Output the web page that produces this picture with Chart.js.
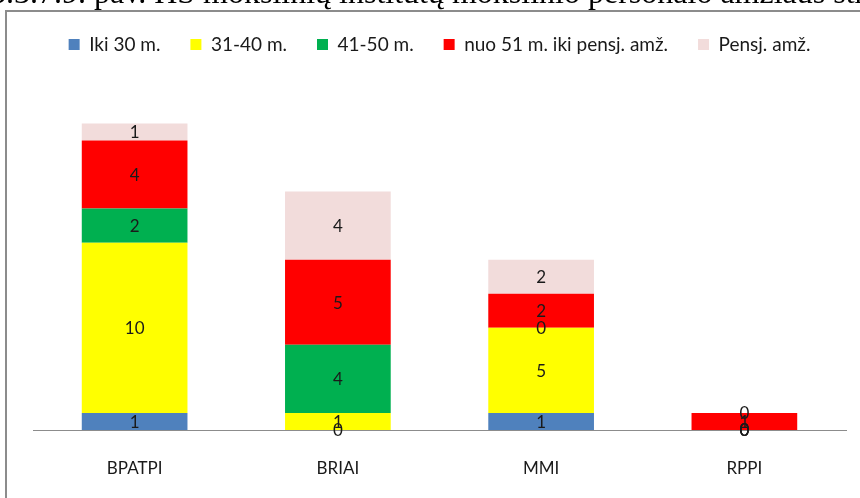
<!DOCTYPE html>
<html>
<head>
<meta charset="utf-8">
<script src="https://cdn.jsdelivr.net/npm/chart.js@4"></script>
<style>
  html, body { margin: 0; padding: 0; background: #fff; }
  #wrap { position: relative; width: 860px; height: 498px; overflow: hidden; }
</style>
</head>
<body>
<div id="wrap"><canvas id="chart" width="860" height="498"></canvas></div>
<script>
const institutes = ["BPATPI", "BRIAI", "MMI", "RPPI"];
const iki30 = [1, 0, 1, 0];
const nuo31iki40 = [10, 1, 5, 0];
const nuo41iki50 = [2, 4, 0, 0];
const nuo51ikiPensijos = [4, 5, 2, 1];
const pensijinis = [1, 4, 2, 0];
const captionText = "3.3.7.9. pav. HS mokslinių institutų mokslinio personalo amžiaus struktūra";

// frame + cut caption at the top, like the scanned page
const pageBits = {
  id: "pageBits",
  beforeDraw(chart) {
    const ctx = chart.ctx;
    ctx.save();
    ctx.fillStyle = "#000";
    ctx.font = "32px 'Liberation Serif'";
    ctx.textBaseline = "alphabetic";
    ctx.fillText(captionText, -10, 3);
    ctx.strokeStyle = "#8c8c8c";
    ctx.lineWidth = 2;
    ctx.strokeRect(6, 11, 900, 520);
    ctx.restore();
  }
};

// value labels in the middle of each piece (zeros too, like Excel)
const pieceLabels = {
  id: "pieceLabels",
  afterDatasetsDraw(chart) {
    const ctx = chart.ctx;
    ctx.save();
    ctx.font = "17px Lato";
    ctx.fillStyle = "#1a1a1a";
    ctx.textAlign = "center";
    ctx.textBaseline = "middle";
    chart.data.datasets.forEach((ds, i) => {
      chart.getDatasetMeta(i).data.forEach((bar, j) => {
        const mid = (bar.y + bar.base) / 2;
        ctx.fillText(String(ds.data[j]), bar.x, mid + 1);
      });
    });
    ctx.restore();
  }
};

new Chart(document.getElementById("chart"), {
  type: "bar",
  data: {
    labels: institutes,
    datasets: [
      { label: "Iki 30 m.", data: iki30, backgroundColor: "#4f81bd" },
      { label: "31-40 m.", data: nuo31iki40, backgroundColor: "#ffff00" },
      { label: "41-50 m.", data: nuo41iki50, backgroundColor: "#00b050" },
      { label: "nuo 51 m. iki pensj. amž.", data: nuo51ikiPensijos, backgroundColor: "#ff0000" },
      { label: "Pensj. amž.", data: pensijinis, backgroundColor: "#f2dcdb" },
    ],
  },
  options: {
    responsive: false,
    animation: false,
    layout: { padding: { left: 33, right: 14, top: 5, bottom: 0 } },
    datasets: { bar: { barPercentage: 0.52, categoryPercentage: 1 } },
    plugins: {
      tooltip: { enabled: false },
      legend: {
        position: "top",
        labels: {
          boxWidth: 11,
          boxHeight: 11,
          padding: 30,
          color: "#1a1a1a",
          font: { family: "Lato", size: 19 },
        },
      },
    },
    scales: {
      x: {
        stacked: true,
        grid: { display: false, drawTicks: false },
        border: { display: true, color: "#8c8c8c", width: 1 },
        ticks: { padding: 28, color: "#1a1a1a", font: { family: "Lato", size: 17 } },
        afterFit(scale) { scale.height = 68; },
      },
      y: {
        stacked: true,
        display: false,
        min: 0,
        max: 21.49,
      },
    },
  },
  plugins: [pageBits, pieceLabels],
});
</script>
</body>
</html>
